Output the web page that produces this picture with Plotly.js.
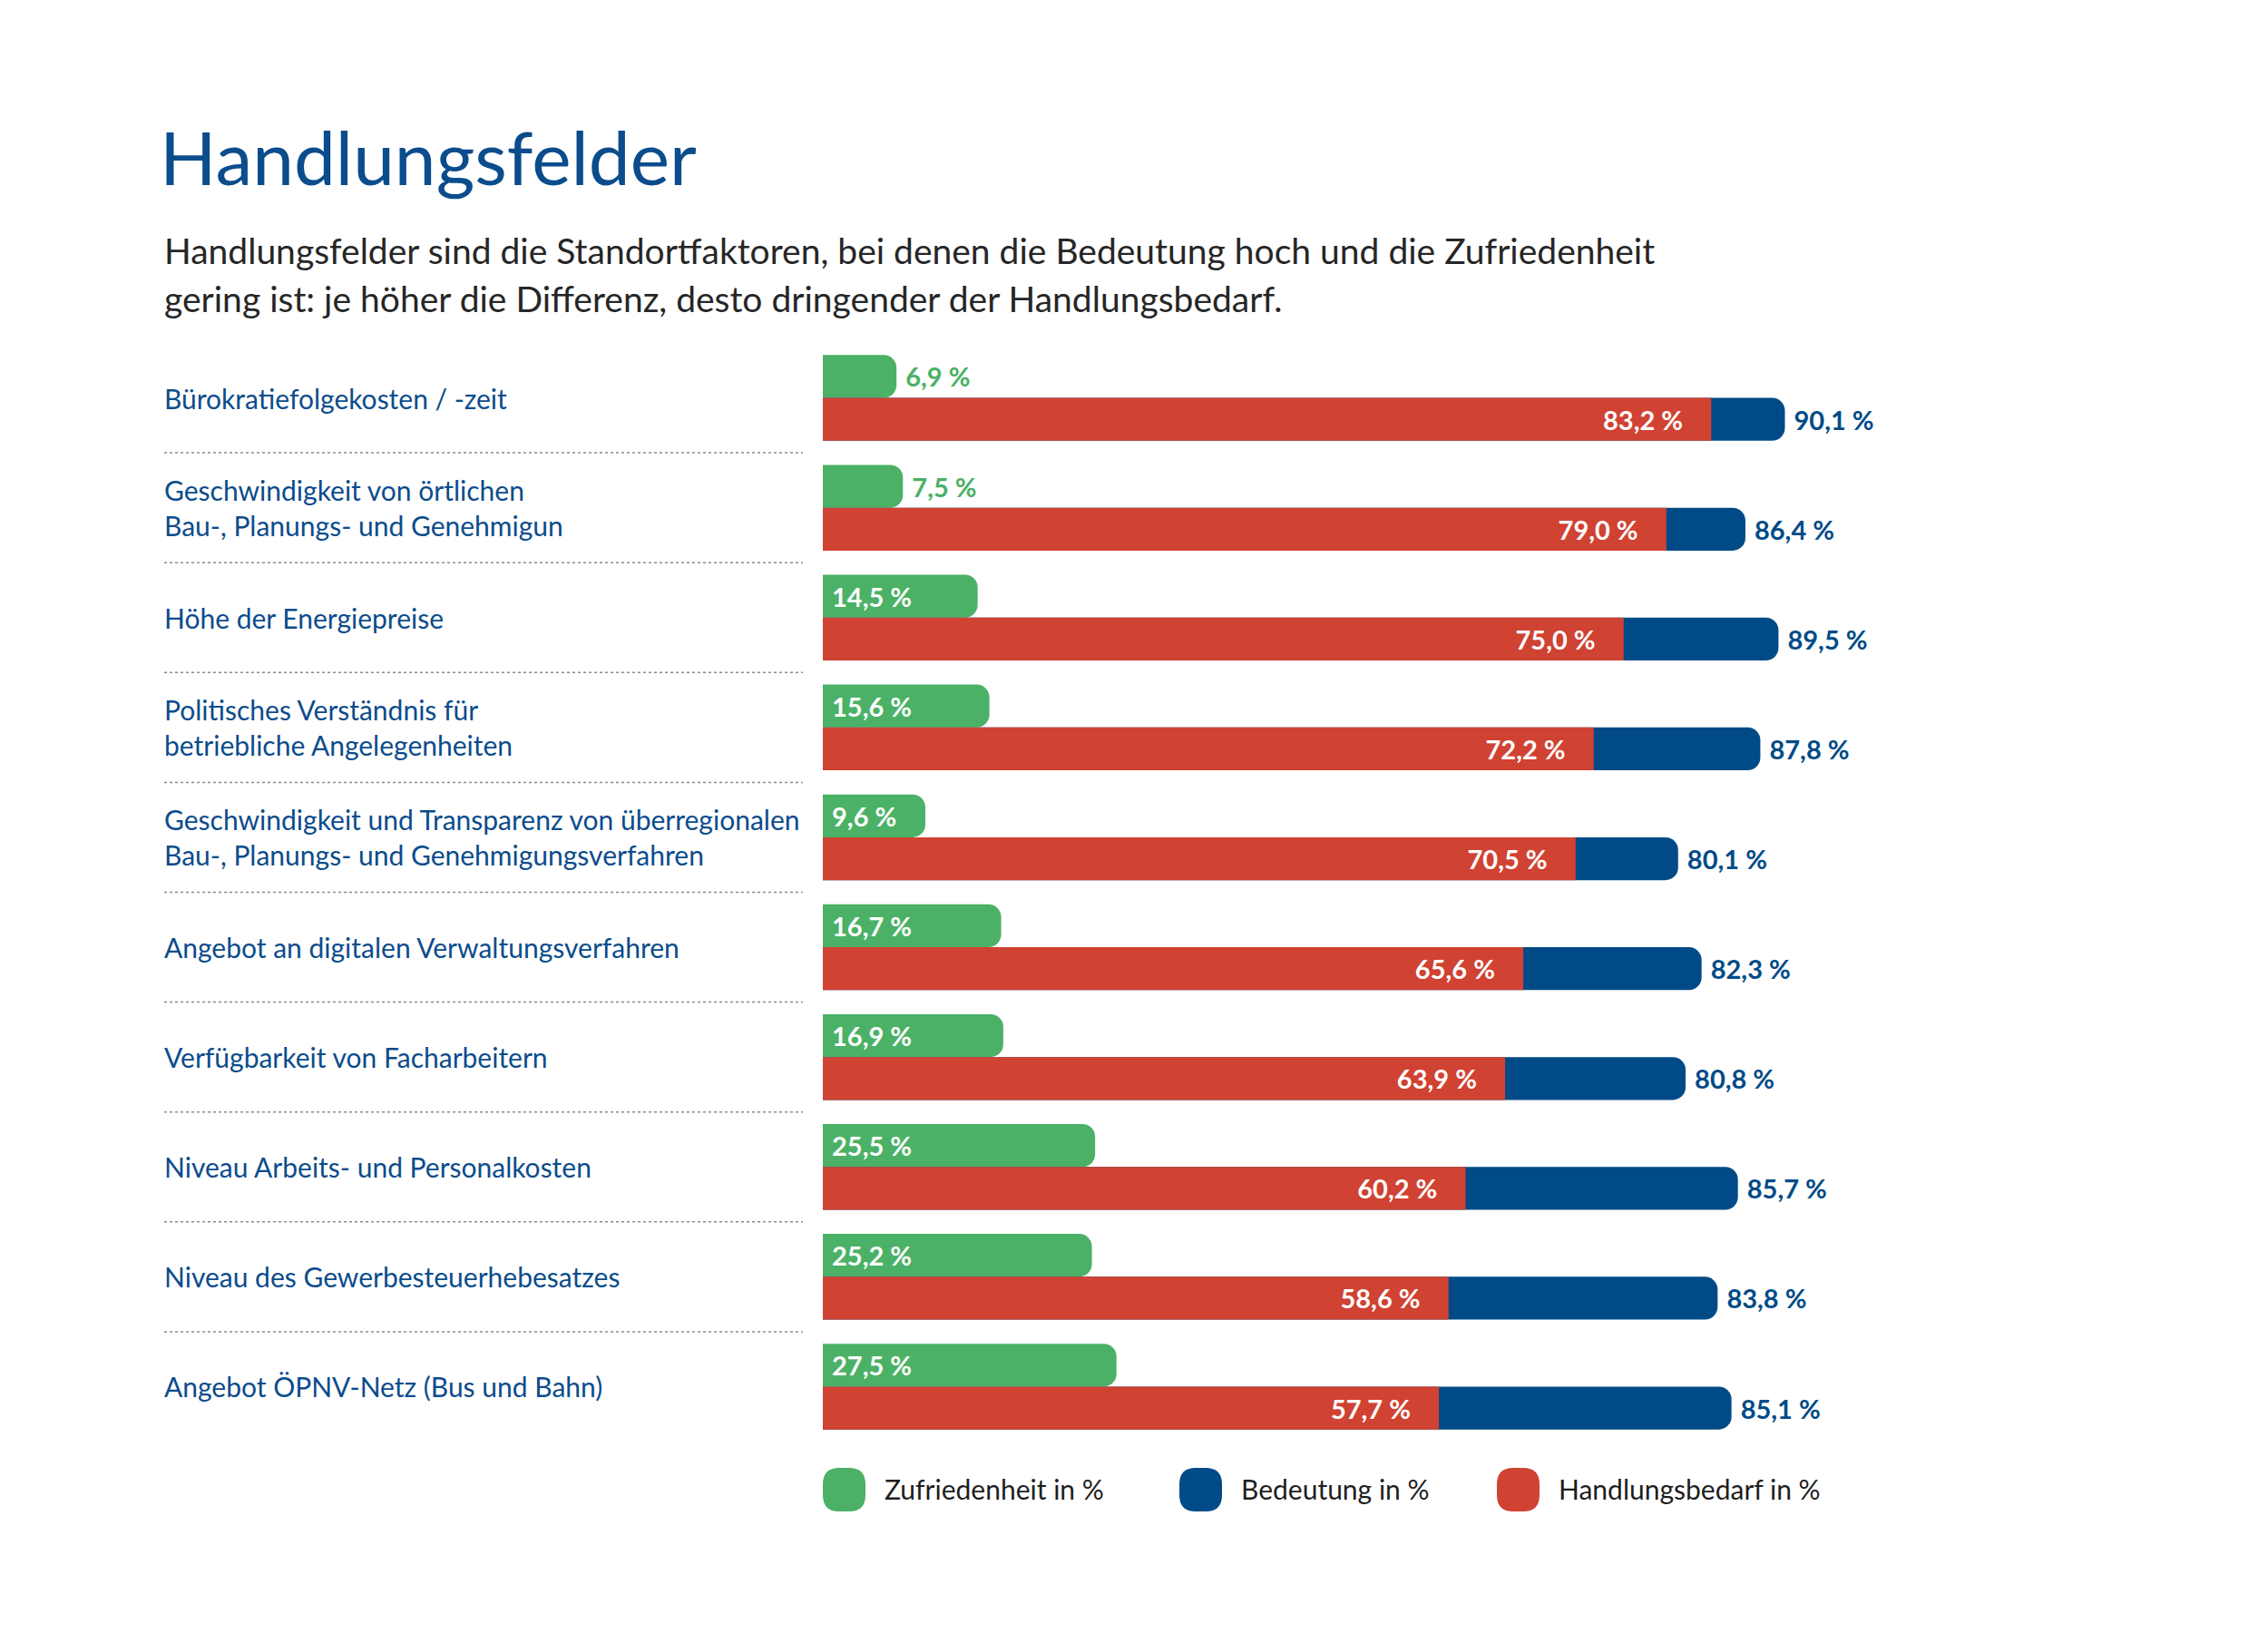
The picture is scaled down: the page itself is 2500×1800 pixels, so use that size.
<!DOCTYPE html>
<html lang="de">
<head>
<meta charset="utf-8">
<title>Handlungsfelder</title>
<script src="https://cdn.plot.ly/plotly-3.0.1.min.js"></script>
<style>
    html, body { margin: 0; padding: 0; background: #ffffff; }
    #chart { width: 2500px; height: 1800px; }
</style>
</head>
<body>
<div id="chart"></div>
<script>
const categories = [
    "Bürokratiefolgekosten / -zeit",
    "Geschwindigkeit von örtlichen<br>Bau-, Planungs- und Genehmigun",
    "Höhe der Energiepreise",
    "Politisches Verständnis für<br>betriebliche Angelegenheiten",
    "Geschwindigkeit und Transparenz von überregionalen<br>Bau-, Planungs- und Genehmigungsverfahren",
    "Angebot an digitalen Verwaltungsverfahren",
    "Verfügbarkeit von Facharbeitern",
    "Niveau Arbeits- und Personalkosten",
    "Niveau des Gewerbesteuerhebesatzes",
    "Angebot ÖPNV-Netz (Bus und Bahn)",
];
const zufriedenheit = [6.9, 7.5, 14.5, 15.6, 9.6, 16.7, 16.9, 25.5, 25.2, 27.5];
const bedeutung = [90.1, 86.4, 89.5, 87.8, 80.1, 82.3, 80.8, 85.7, 83.8, 85.1];
const handlungsbedarf = [83.2, 79.0, 75.0, 72.2, 70.5, 65.6, 63.9, 60.2, 58.6, 57.7];
const seriesNames = ["Zufriedenheit in %", "Bedeutung in %", "Handlungsbedarf in %"];

const titleText = "Handlungsfelder";
const subtitleLines = [
    "Handlungsfelder sind die Standortfaktoren, bei denen die Bedeutung hoch und die Zufriedenheit",
    "gering ist: je höher die Differenz, desto dringender der Handlungsbedarf.",
];

const GREEN = "#4bb166";
const BLUE = "#004b87";
const RED = "#d04232";
const LABEL_BLUE = "#0b4c8c";
const TEXT_DARK = "#1e1e1e";
const FONT = "Lato, 'Open Sans', 'Noto Sans', sans-serif";

// pixel frame of the plot area
const plotLeft = 907;
const plotRight = 2084;
const plotTop = 378;
const plotBottom = 1589;
const px = (x) => (x - plotLeft) / (plotRight - plotLeft);
const py = (y) => (plotBottom - y) / (plotBottom - plotTop);

const NBSP = "\u00a0";
const fmt = (v) => v.toFixed(1).replace(".", ",") + " %";
const rows = categories.map((_, i) => i);
const BAR_W = 0.39;
const RADIUS = 14;

const valueFont = (color) => ({ family: FONT, size: 29, color: color, weight: "bold" });

const traces = [
    {
        type: "bar",
        orientation: "h",
        name: seriesNames[0],
        x: zufriedenheit,
        y: rows,
        offset: -BAR_W,
        width: BAR_W,
        marker: { color: GREEN, cornerradius: RADIUS },
        text: zufriedenheit.map((v) => NBSP + fmt(v)),
        textposition: zufriedenheit.map((v) => v < 9 ? "outside" : "inside"),
        insidetextanchor: "start",
        insidetextfont: valueFont("#ffffff"),
        outsidetextfont: valueFont(GREEN),
        constraintext: "none",
        cliponaxis: false,
        hoverinfo: "skip",
    },
    {
        type: "bar",
        orientation: "h",
        name: seriesNames[1],
        x: bedeutung,
        y: rows,
        offset: 0,
        width: BAR_W,
        marker: { color: BLUE, cornerradius: RADIUS },
        text: bedeutung.map((v) => NBSP + fmt(v)),
        textposition: "outside",
        outsidetextfont: valueFont(BLUE),
        constraintext: "none",
        cliponaxis: false,
        hoverinfo: "skip",
    },
    {
        type: "bar",
        orientation: "h",
        name: seriesNames[2],
        x: handlungsbedarf,
        y: rows,
        offset: 0,
        width: BAR_W,
        marker: { color: RED, cornerradius: RADIUS },
        text: handlungsbedarf.map((v) => fmt(v) + NBSP + NBSP + NBSP + NBSP),
        textposition: "inside",
        insidetextanchor: "end",
        insidetextfont: valueFont("#ffffff"),
        constraintext: "none",
        cliponaxis: false,
        hoverinfo: "skip",
    },
];

const shapes = [];
const annotations = [];

// dotted separators between the rows
for (let i = 0; i < categories.length - 1; i++) {
    shapes.push({
        type: "line",
        xref: "paper",
        yref: "y",
        x0: px(181),
        x1: px(885),
        y0: i + 0.5,
        y1: i + 0.5,
        line: { color: "#8c8c8c", width: 1.5, dash: "dot" },
    });
}

categories.forEach((label, i) => {
    annotations.push({
        xref: "paper",
        yref: "y",
        x: px(179),
        y: i,
        xanchor: "left",
        yanchor: "middle",
        align: "left",
        showarrow: false,
        text: label,
        font: { family: FONT, size: 30, color: LABEL_BLUE },
    });
});

subtitleLines.forEach((line, i) => {
    annotations.push({
        xref: "paper",
        yref: "paper",
        x: px(179),
        y: py(276 + i * 53),
        xanchor: "left",
        yanchor: "middle",
        showarrow: false,
        text: line,
        font: { family: FONT, size: 39, color: "#262626" },
    });
});

function roundedRect(x0, y0, x1, y1, r) {
    const p = (x, y) => `${px(x)},${py(y)}`;
    return [
        `M${p(x0 + r, y0)}`,
        `L${p(x1 - r, y0)}`,
        `Q${p(x1, y0)} ${p(x1, y0 + r)}`,
        `L${p(x1, y1 - r)}`,
        `Q${p(x1, y1)} ${p(x1 - r, y1)}`,
        `L${p(x0 + r, y1)}`,
        `Q${p(x0, y1)} ${p(x0, y1 - r)}`,
        `L${p(x0, y0 + r)}`,
        `Q${p(x0, y0)} ${p(x0 + r, y0)}`,
        "Z",
    ].join(" ");
}

// hand-drawn legend with rounded swatches
const legendColors = [GREEN, BLUE, RED];
const legendX = [907, 1300, 1650];
seriesNames.forEach((name, k) => {
    shapes.push({
        type: "path",
        xref: "paper",
        yref: "paper",
        path: roundedRect(legendX[k], 1618, legendX[k] + 47, 1666, 18),
        fillcolor: legendColors[k],
        line: { width: 0 },
    });
    annotations.push({
        xref: "paper",
        yref: "paper",
        x: px(legendX[k] + 66),
        y: py(1641),
        xanchor: "left",
        yanchor: "middle",
        showarrow: false,
        text: name,
        font: { family: FONT, size: 30, color: TEXT_DARK },
    });
});

const layout = {
    width: 2500,
    height: 1800,
    autosize: false,
    margin: { l: plotLeft, r: 2500 - plotRight, t: plotTop, b: 1800 - plotBottom, pad: 0 },
    paper_bgcolor: "#ffffff",
    plot_bgcolor: "#ffffff",
    barmode: "overlay",
    showlegend: false,
    title: {
        text: titleText,
        font: { family: FONT, size: 82, color: LABEL_BLUE },
        xref: "container",
        yref: "container",
        x: 176 / 2500,
        xanchor: "left",
        y: 1 - 175 / 1800,
        yanchor: "middle",
    },
    xaxis: { range: [0, 100], visible: false, fixedrange: true },
    yaxis: { range: [categories.length - 0.5, -0.5], visible: false, fixedrange: true },
    shapes: shapes,
    annotations: annotations,
};

Plotly.newPlot("chart", traces, layout, { staticPlot: true, displayModeBar: false });
</script>
</body>
</html>
